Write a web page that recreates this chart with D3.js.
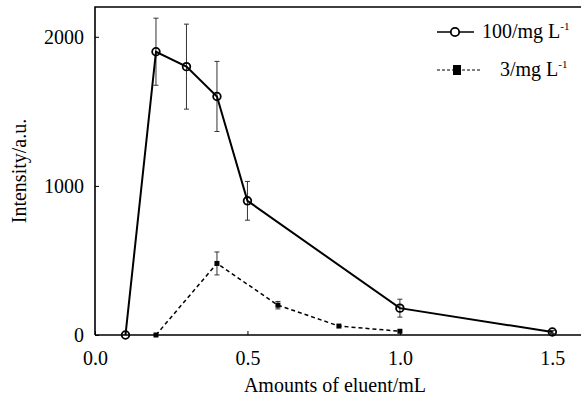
<!DOCTYPE html>
<html><head><meta charset="utf-8">
<script src="https://cdn.jsdelivr.net/npm/d3@7/dist/d3.min.js"></script>
<style>body{margin:0;background:#fff}svg{display:block}svg text{font-family:"Liberation Serif","Times New Roman",serif !important;fill:#000}</style>
</head><body><svg id="c" width="581" height="400"></svg>
<script>
const xs100 = [0.1, 0.2, 0.3, 0.4, 0.5, 1.0, 1.5];
const ys100 = [0, 1900, 1800, 1600, 900, 180, 20];
const err100 = [0, 225, 285, 235, 130, 60, 10];
const xs3 = [0.2, 0.4, 0.6, 0.8, 1.0];
const ys3 = [0, 480, 200, 60, 25];
const err3 = [0, 77, 25, 0, 0];
const xTicks = [0.0, 0.5, 1.0, 1.5];
const yTicks = [0, 1000, 2000];
const legendLabels = ["100/mg L", "3/mg L"];

const FS = 20;
const svg = d3.select("#c");
const L = 95, R = 581, T = 7, B = 335;
const x = d3.scaleLinear().domain([0, 1.594]).range([L, R]);
const y = d3.scaleLinear().domain([0, 2200]).range([B, T]);

svg.append("path").attr("d", `M${L},${B}H${R}M${L},${B}V${T}H${R}`).attr("fill","none").attr("stroke","#000").attr("stroke-width",1.6);

const xa = svg.append("g").attr("transform",`translate(0,${B})`)
  .call(d3.axisBottom(x).tickValues(xTicks).tickFormat(d3.format(".1f")).tickSizeInner(-4).tickSizeOuter(0));
xa.attr("font-family", null).attr("font-size", null);
xa.select(".domain").remove();
xa.selectAll("text").attr("font-size",FS).attr("y",null).attr("dy",null).attr("transform","translate(0,30)");
const ya = svg.append("g").attr("transform",`translate(${L},0)`)
  .call(d3.axisLeft(y).tickValues(yTicks).tickFormat(d3.format("d")).tickSizeInner(-4).tickSizeOuter(0));
ya.attr("font-family", null).attr("font-size", null);
ya.select(".domain").remove();
ya.selectAll("text").attr("font-size",FS).attr("x",-11).attr("dy","0.32em");

svg.append("text").attr("x",335).attr("y",392).attr("text-anchor","middle").attr("font-size",FS).text("Amounts of eluent/mL");
svg.append("text").attr("transform","translate(26,171) rotate(-90)").attr("text-anchor","middle").attr("font-size",FS).text("Intensity/a.u.");

function errBars(xsA, ysA, eA){
  const g = svg.append("g").attr("stroke","#333").attr("stroke-width",1);
  xsA.forEach((xv,i)=>{
    const e = eA[i]; if(!e) return;
    const px = x(xv), t = y(ysA[i]+e), b = y(ysA[i]-e);
    g.append("line").attr("x1",px).attr("x2",px).attr("y1",t).attr("y2",b);
    g.append("line").attr("x1",px-2.5).attr("x2",px+2.5).attr("y1",t).attr("y2",t);
    g.append("line").attr("x1",px-2.5).attr("x2",px+2.5).attr("y1",b).attr("y2",b);
  });
}
errBars(xs100, ys100, err100);
errBars(xs3, ys3, err3);

const line = d3.line().x(d=>x(d[0])).y(d=>y(d[1]));
svg.append("path").datum(d3.zip(xs100, ys100)).attr("d",line).attr("fill","none").attr("stroke","#000").attr("stroke-width",2);
svg.append("path").datum(d3.zip(xs3, ys3)).attr("d",line).attr("fill","none").attr("stroke","#000").attr("stroke-width",1.5).attr("stroke-dasharray","4,3");

svg.append("g").selectAll("circle").data(d3.zip(xs100, ys100)).join("circle")
  .attr("cx",d=>x(d[0])).attr("cy",d=>y(d[1])).attr("r",3.8).attr("fill","none").attr("stroke","#000").attr("stroke-width",1.8);
svg.append("g").selectAll("rect").data(d3.zip(xs3, ys3)).join("rect")
  .attr("x",d=>x(d[0])-2.5).attr("y",d=>y(d[1])-2.5).attr("width",5).attr("height",5).attr("fill","#000");

const lg = svg.append("g");
lg.append("line").attr("x1",437).attr("x2",474).attr("y1",32).attr("y2",32).attr("stroke","#000").attr("stroke-width",1.5);
lg.append("circle").attr("cx",455).attr("cy",32).attr("r",4.2).attr("fill","#fff").attr("stroke","#000").attr("stroke-width",1.8);
const t1 = lg.append("text").attr("x",482).attr("y",38).attr("font-size",FS).text(legendLabels[0]);
t1.append("tspan").attr("font-size",11).attr("dy",-8).text("-1");
lg.append("line").attr("x1",437).attr("x2",480).attr("y1",70).attr("y2",70).attr("stroke","#000").attr("stroke-width",1).attr("stroke-dasharray","3,2");
lg.append("rect").attr("x",453).attr("y",65).attr("width",8).attr("height",10).attr("fill","#000");
const t2 = lg.append("text").attr("x",500).attr("y",76).attr("font-size",FS).text(legendLabels[1]);
t2.append("tspan").attr("font-size",11).attr("dy",-8).text("-1");
</script></body></html>
